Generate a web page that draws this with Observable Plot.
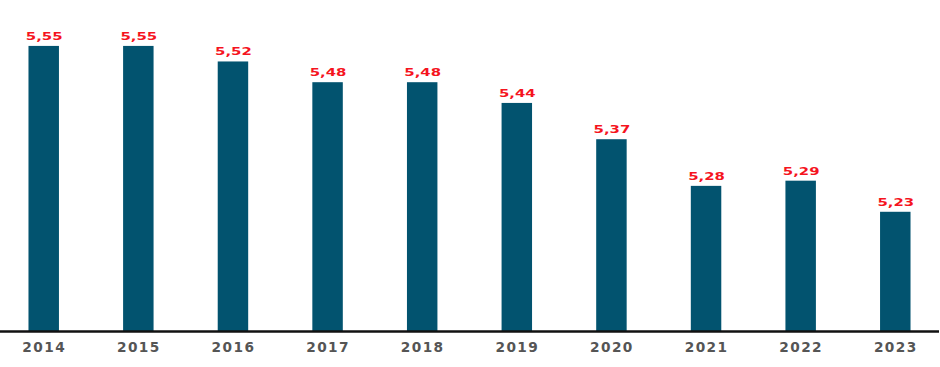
<!DOCTYPE html>
<html>
<head>
<meta charset="utf-8">
<script src="https://cdn.jsdelivr.net/npm/d3@7"></script>
<script src="https://cdn.jsdelivr.net/npm/@observablehq/plot@0.6"></script>
<style>
  html, body { margin: 0; padding: 0; background: #fff; }
  #chart svg { display: block; }
</style>
</head>
<body>
<div id="chart"></div>
<script>
const years = ["2014","2015","2016","2017","2018","2019","2020","2021","2022","2023"];
const values = [5.55, 5.55, 5.52, 5.48, 5.48, 5.44, 5.37, 5.28, 5.29, 5.23];

const data = years.map((y, i) => ({year: y, value: values[i]}));
const fmt = v => d3.format(".2f")(v).replace(".", ",");

const chart = Plot.plot({
  width: 940,
  height: 367,
  marginLeft: 0,
  marginRight: 1,
  marginTop: 20,
  marginBottom: 36,
  style: {fontFamily: "DejaVu Sans", background: "#fff"},
  x: {domain: years, paddingInner: 0.678, paddingOuter: 0.301, round: false, label: null},
  y: {domain: [5, 5.6], axis: null},
  marks: [
    Plot.barY(data, {x: "year", y1: 5, y2: "value", fill: "#02536f"}),
    Plot.text(data, {x: "year", y: "value", text: d => fmt(d.value), lineAnchor: "bottom", dy: -6.5, fill: "#f5141e", fontWeight: "bold", fontSize: 11.2}),
    Plot.ruleY([5], {stroke: "#111", strokeWidth: 2.5}),
    Plot.axisX({tickSize: 0, tickPadding: 11, fontSize: 13.7, fontWeight: "bold", fill: "#555", label: null})
  ]
});
chart.querySelectorAll("g[aria-label='x-axis tick label'] text").forEach(t => { t.style.letterSpacing = "1.4px"; });
chart.querySelectorAll("g[aria-label='text'] text").forEach(t => {
  const x = +(t.getAttribute("x") || 0), y = +(t.getAttribute("y") || 0);
  t.removeAttribute("x"); t.removeAttribute("y");
  const tr = t.getAttribute("transform") || "";
  t.setAttribute("transform", `${tr} translate(${x},${y}) scale(1.33,1)`);
});
document.getElementById("chart").appendChild(chart);
</script>
</body>
</html>
